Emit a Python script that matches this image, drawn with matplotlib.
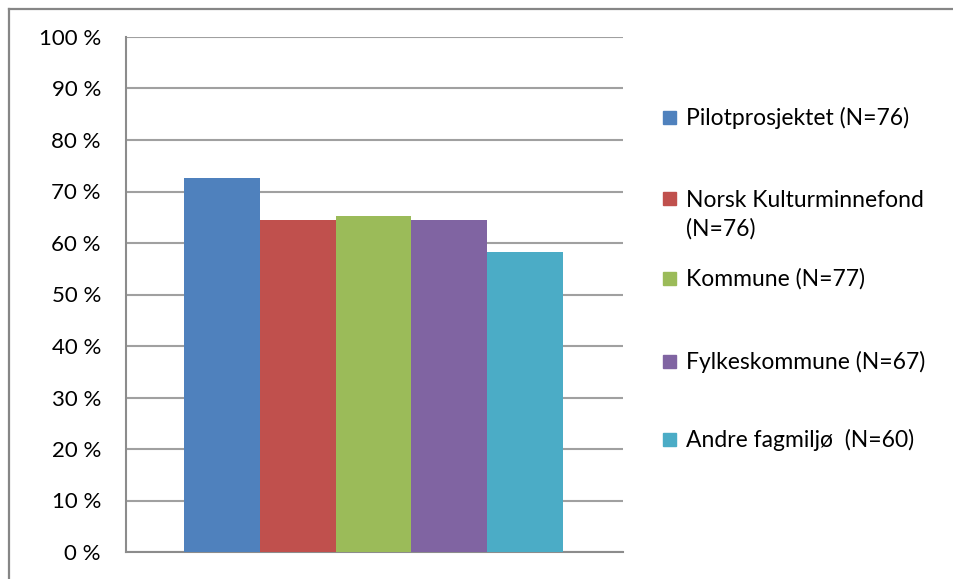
import matplotlib.pyplot as plt
from matplotlib.patches import Rectangle
from matplotlib.lines import Line2D

plt.rcParams['font.family'] = ['Lato', 'DejaVu Sans']

# data
labels = ['Pilotprosjektet (N=76)', 'Norsk Kulturminnefond\n(N=76)', 'Kommune (N=77)',
          'Fylkeskommune (N=67)', 'Andre fagmiljø  (N=60)']
values = [72.6, 64.45, 65.2, 64.45, 58.25]
colors = ['#4f81bd', '#c0504d', '#9bbb59', '#8064a2', '#4bacc6']
yticks = list(range(0, 101, 10))
ytick_labels = [f'{t} %' for t in yticks]

W, H = 954, 579
fig = plt.figure(figsize=(W / 100, H / 100), dpi=100)

# outer chart border (only top/left visible in the crop)
fig.add_artist(Line2D([9 / W, 1], [1 - 9 / H, 1 - 9 / H], color='#868686', lw=1.6,
                      transform=fig.transFigure))
fig.add_artist(Line2D([9 / W, 9 / W], [0, 1 - 9 / H], color='#868686', lw=1.6,
                      transform=fig.transFigure))

left, right, top, bottom = 126, 623, 37, 552
ax = fig.add_axes([left / W, 1 - bottom / H, (right - left) / W, (bottom - top) / H])

xs = [i - 2 for i in range(len(values))]
ax.bar(xs, values, width=1.0, color=colors, zorder=3)

ax.set_xlim(-3.265, 3.29)
ax.set_ylim(0, 100)
ax.set_yticks(yticks)
ax.set_yticklabels(ytick_labels, fontsize=16)
ax.set_xticks([])
ax.tick_params(axis='y', length=0, pad=18)
ax.grid(axis='y', color='#a0a0a0', lw=1.5, zorder=0)
for s in ['top', 'right']:
    ax.spines[s].set_visible(False)
for s in ['left', 'bottom']:
    ax.spines[s].set_color('#8c8c8c')
    ax.spines[s].set_linewidth(1.5)

# legend, drawn by hand to mimic Excel spacing
ys = [118, 199, 279, 362, 440]
for lab, col, y in zip(labels, colors, ys):
    fig.add_artist(Rectangle((663 / W, 1 - (y + 6) / H), 13 / W, 13 / H,
                             color=col, transform=fig.transFigure))
    nlines = lab.count('\n')
    fig.text(686 / W, 1 - (y + nlines * 16) / H, lab, fontsize=16.5, va='center',
             ha='left', linespacing=1.4)

fig.savefig('out.png', dpi=100)
